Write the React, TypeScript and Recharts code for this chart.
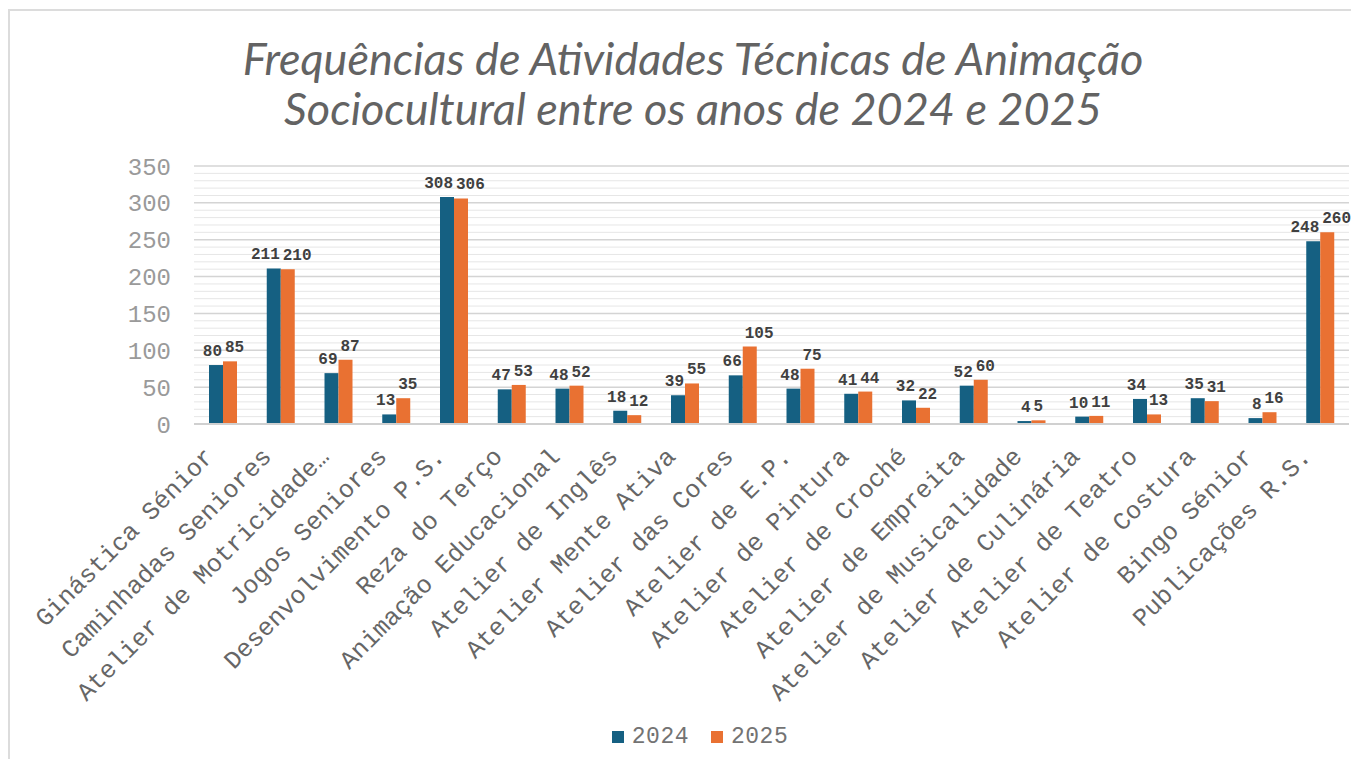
import React from 'react';
import {
  BarChart, Bar, XAxis, YAxis, CartesianGrid, Legend, LabelList
} from 'recharts';

const categories = [
  'Ginástica Sénior', 'Caminhadas Seniores', 'Atelier de Motricidade…', 'Jogos Seniores',
  'Desenvolvimento P.S.', 'Reza do Terço', 'Animação Educacional', 'Atelier de Inglês',
  'Atelier Mente Ativa', 'Atelier das Cores', 'Atelier de E.P.', 'Atelier de Pintura',
  'Atelier de Croché', 'Atelier de Empreita', 'Atelier de Musicalidade', 'Atelier de Culinária',
  'Atelier de Teatro', 'Atelier de Costura', 'Bingo Sénior', 'Publicações R.S.',
];
const values2024 = [80, 211, 69, 13, 308, 47, 48, 18, 39, 66, 48, 41, 32, 52, 4, 10, 34, 35, 8, 248];
const values2025 = [85, 210, 87, 35, 306, 53, 52, 12, 55, 105, 75, 44, 22, 60, 5, 11, 13, 31, 16, 260];
// every 10 gets a gridline; only every 50 gets a label
const gridTicks = [0, 10, 20, 30, 40, 50, 60, 70, 80, 90, 100, 110, 120, 130, 140, 150, 160, 170,
  180, 190, 200, 210, 220, 230, 240, 250, 260, 270, 280, 290, 300, 310, 320, 330, 340, 350];
const labelStep = 50;

const BLUE = '#156082';
const ORANGE = '#E97132';
const MONO = '"Liberation Mono", "Courier New", monospace';

const data = categories.map((name, i) => ({ name, y2024: values2024[i], y2025: values2025[i] }));

const XTick = (props: any) => {
  const { x, y, payload } = props;
  const ax = x - 8;
  const ay = y + 34;
  return (
    <text x={ax} y={ay} transform={`rotate(-45, ${ax}, ${ay})`} textAnchor="end"
      fontFamily={MONO} fontSize={25} fill="#666666">
      {payload.value}
    </text>
  );
};

const gridLine = (p: any) => {
  const major = gridTicks[p.index] % labelStep === 0;
  return (
    <line key={p.key} x1={p.x1} y1={p.y1} x2={p.x2} y2={p.y2}
      stroke={major ? '#d4d4d4' : '#e6e6e6'} strokeWidth={major ? 1.5 : 1} />
  );
};

// 2024 labels sit right-aligned over their bar, 2025 labels left-aligned, like the Excel original
const makeLabel = (side: 'left' | 'right') => (props: any) => {
  const vb = props.viewBox ?? props;
  const x = vb.x ?? props.x;
  const y = vb.y ?? props.y;
  const w = vb.width ?? props.width;
  const tx = side === 'left' ? x + w - 1 : x + 2;
  return (
    <text x={tx} y={y - 9} textAnchor={side === 'left' ? 'end' : 'start'}
      fontFamily={MONO} fontWeight="bold" fontSize={16} fill="#404040">
      {props.value}
    </text>
  );
};

const renderLegend = () => (
  <div style={{
    display: 'flex', justifyContent: 'center', alignItems: 'center', gap: 22,
    paddingLeft: 32, height: 24, fontFamily: MONO, fontSize: 23, color: '#737373', letterSpacing: 0.5,
  }}>
    {[['2024', BLUE], ['2025', ORANGE]].map(([n, c]) => (
      <span key={n} style={{ display: 'flex', alignItems: 'center' }}>
        <span style={{ display: 'inline-block', width: 12, height: 12, background: c, marginRight: 8 }} />
        {n}
      </span>
    ))}
  </div>
);

export default function App() {
  return (
    <div style={{
      position: 'relative', width: 1348, height: 748, marginTop: 1,
      borderTop: '2px solid #dcdcdc', borderLeft: '2px solid #dcdcdc', background: '#fff',
    }}>
      <div style={{
        position: 'absolute', top: 22, left: 0, width: 1366, textAlign: 'center',
        fontFamily: 'Lato, "Open Sans", sans-serif', fontStyle: 'italic', fontSize: 45,
        lineHeight: '50px', color: '#636363',
      }}>
        <div>Frequências de Atividades Técnicas de Animação</div>
        <div>Sociocultural entre os anos de 2024 e 2025</div>
      </div>
      <BarChart width={1348} height={748} data={data}
        margin={{ top: 155, right: 9, left: 124, bottom: 10 }}
        barGap={0} barSize={14}>
        <CartesianGrid vertical={false} horizontal={gridLine} />
        <XAxis dataKey="name" interval={0} height={301} tick={<XTick />}
          tickLine={false} tickSize={0} tickMargin={0} axisLine={{ stroke: '#d0d0d0', strokeWidth: 2 }} />
        <YAxis domain={[0, 350]} ticks={gridTicks} interval={0} width={60} axisLine={false} tickLine={false}
          tickSize={0} tickMargin={23}
          tickFormatter={(v: number) => (v % labelStep === 0 ? String(v) : '')}
          tick={{ fontFamily: MONO, fontSize: 24, fill: '#9a9a9a' }} />
        <Legend verticalAlign="bottom" content={renderLegend} wrapperStyle={{ left: 0, width: 1348 }} />
        <Bar dataKey="y2024" name="2024" fill={BLUE} isAnimationActive={false}>
          <LabelList dataKey="y2024" content={makeLabel('left')} />
        </Bar>
        <Bar dataKey="y2025" name="2025" fill={ORANGE} isAnimationActive={false}>
          <LabelList dataKey="y2025" content={makeLabel('right')} />
        </Bar>
      </BarChart>
    </div>
  );
}
